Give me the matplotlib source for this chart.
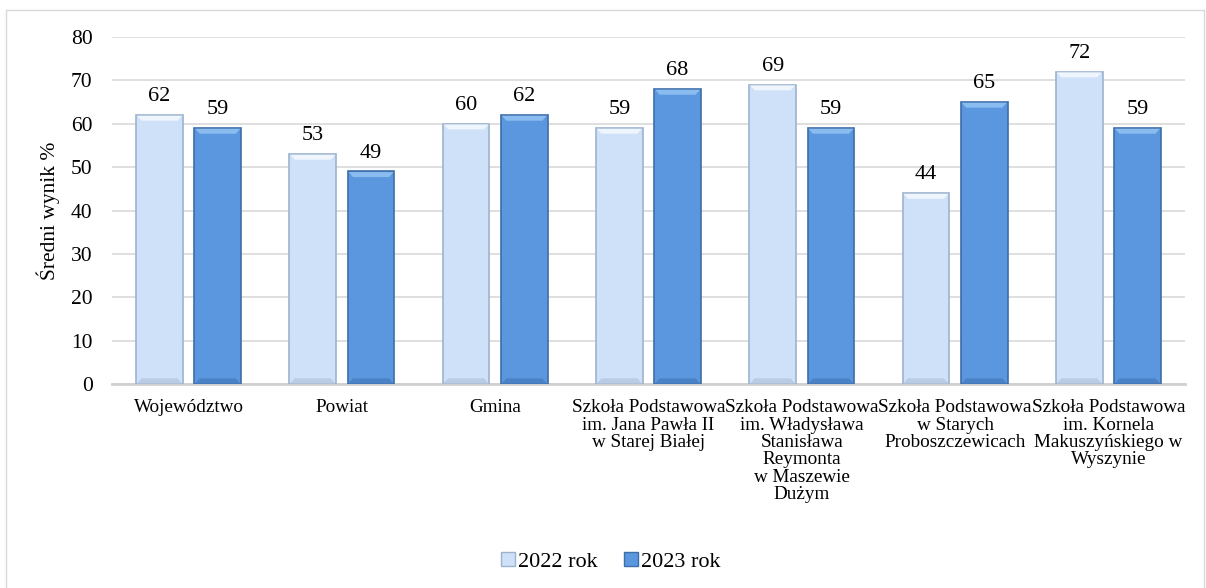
import numpy as np
import matplotlib
matplotlib.use('Agg')
import matplotlib.pyplot as plt
from matplotlib.patches import Rectangle, Polygon
from matplotlib.lines import Line2D

CATEGORIES = [
    'Województwo',
    'Powiat',
    'Gmina',
    'Szkoła Podstawowa\nim. Jana Pawła II\nw Starej Białej',
    'Szkoła Podstawowa\nim. Władysława\nStanisława\nReymonta\nw Maszewie\nDużym',
    'Szkoła Podstawowa\nw Starych\nProboszczewicach',
    'Szkoła Podstawowa\nim. Kornela\nMakuszyńskiego w\nWyszynie',
]
YEAR_2022 = [62, 53, 60, 59, 69, 44, 72]
YEAR_2023 = [59, 49, 62, 68, 59, 65, 59]
SERIES_NAMES = ['2022 rok', '2023 rok']
Y_TICKS = [0, 10, 20, 30, 40, 50, 60, 70, 80]

plt.rcParams['font.family'] = 'serif'
plt.rcParams['font.serif'] = ['Liberation Serif', 'DejaVu Serif']

fig = plt.figure(figsize=(12.06, 5.88), dpi=100)
W, H = 1206, 588
ax = fig.add_axes([112 / W, 1 - 384 / H, (1185 - 112) / W, (384 - 37) / H])

x = np.arange(len(CATEGORIES))
bw = 0.305
off = 0.19

styles = [
    dict(face='#CFE1F8', edge='#9DB3CE', top='#EEF5FD', bot='#B9CCE4'),
    dict(face='#5A97DE', edge='#3D6EA8', top='#8ABCF0', bot='#4B82C6'),
]

bev_y = 1.3   # bevel height in data units
bev_x = 0.035

for vals, dx, st in zip([YEAR_2022, YEAR_2023], [-off, off], styles):
    bars = ax.bar(x + dx, vals, bw, color=st['face'], edgecolor=st['edge'],
                  linewidth=1.2, zorder=3)
    for b, v in zip(bars, vals):
        x0, x1 = b.get_x(), b.get_x() + bw
        # bevel highlights, top and bottom
        ax.add_patch(Polygon([(x0 + 0.006, v - 0.15), (x1 - 0.006, v - 0.15),
                              (x1 - bev_x, v - bev_y), (x0 + bev_x, v - bev_y)],
                             closed=True, facecolor=st['top'], edgecolor='none', zorder=4))
        ax.add_patch(Polygon([(x0 + 0.006, 0.15), (x1 - 0.006, 0.15),
                              (x1 - bev_x, bev_y), (x0 + bev_x, bev_y)],
                             closed=True, facecolor=st['bot'], edgecolor='none', zorder=4))
        ax.text(b.get_x() + bw / 2, v + 2.0, str(v), ha='center', va='bottom',
                fontsize=16, zorder=5)

ax.set_xlim(-0.5, len(CATEGORIES) - 0.5)
ax.set_ylim(0, 80)
ax.set_yticks(Y_TICKS)
ax.tick_params(axis='y', labelsize=15.5, length=0, pad=14)
ax.set_xticks(x)
ax.set_xticklabels(CATEGORIES, fontsize=13.8, linespacing=1.03)
ax.tick_params(axis='x', length=0, pad=11)
ax.set_ylabel('Średni wynik %', fontsize=15.5, labelpad=8)

ax.grid(axis='y', color='#D9D9D9', linewidth=1.2, zorder=0)
for s in ['top', 'right', 'left']:
    ax.spines[s].set_visible(False)
ax.spines['bottom'].set_color('#D0D0D0')
ax.spines['bottom'].set_linewidth(2)

handles = [Rectangle((0, 0), 1, 1, facecolor=st['face'], edgecolor=st['edge'])
           for st in styles]
fig.legend(handles, SERIES_NAMES, loc='center', bbox_to_anchor=(611 / W, 1 - 562 / H),
           ncol=2, frameon=False, fontsize=16, handlelength=0.6, handleheight=0.6,
           handletextpad=0.15, columnspacing=1.2)

# outer chart frame
fig.add_artist(Line2D([6 / W, 6 / W, 1204 / W, 1204 / W], [0, 1 - 10 / H, 1 - 10 / H, 0],
                      transform=fig.transFigure, color='#D9D9D9', linewidth=1))

fig.savefig('out.png', dpi=100)
